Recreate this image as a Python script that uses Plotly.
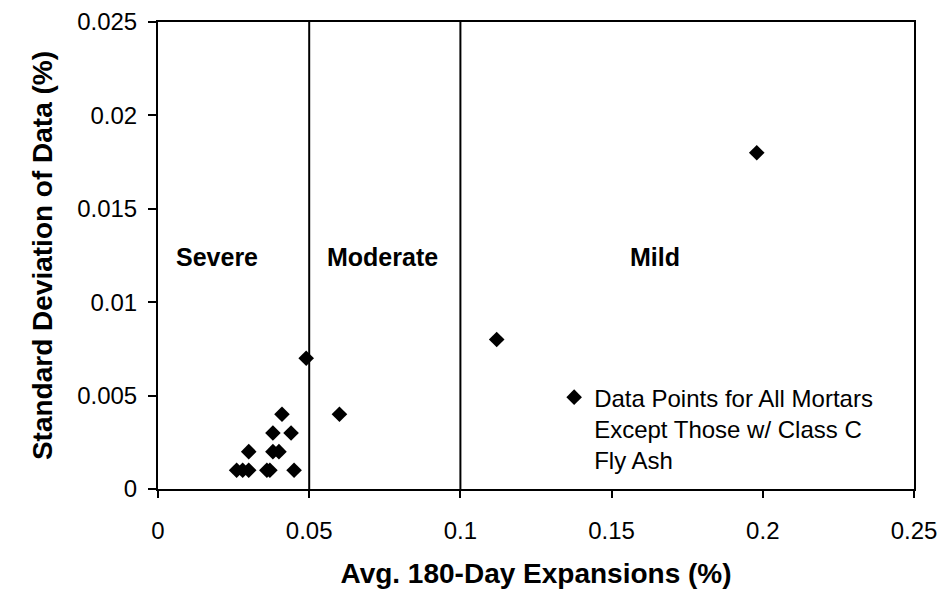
import plotly.graph_objects as go

# Average 180-day expansion (%) and standard deviation (%) for each mortar
avg_expansion = [0.026, 0.028, 0.030, 0.036, 0.037, 0.045,
                 0.030, 0.038, 0.040,
                 0.038, 0.044,
                 0.041, 0.060,
                 0.049,
                 0.112,
                 0.198]
std_dev = [0.001, 0.001, 0.001, 0.001, 0.001, 0.001,
           0.002, 0.002, 0.002,
           0.003, 0.003,
           0.004, 0.004,
           0.007,
           0.008,
           0.018]

# Severity class boundaries and labels
boundaries = [0.05, 0.1]
zone_labels = ["Severe", "Moderate", "Mild"]
zone_label_x = [0.0195, 0.0744, 0.1642]
zone_label_y = 0.0124

x_ticks = [0, 0.05, 0.1, 0.15, 0.2, 0.25]
x_tick_text = ["0", "0.05", "0.1", "0.15", "0.2", "0.25"]
y_ticks = [0, 0.005, 0.01, 0.015, 0.02, 0.025]
y_tick_text = ["0", "0.005", "0.01", "0.015", "0.02", "0.025"]

FONT = "Liberation Sans, Arial, sans-serif"

fig = go.Figure()
fig.add_trace(go.Scatter(
    x=avg_expansion, y=std_dev, mode="markers",
    name="Data Points for All Mortars<br>Except Those w/ Class C<br>Fly Ash",
    marker=dict(symbol="diamond", size=12, color="black"),
))

for b in boundaries:
    fig.add_shape(type="line", xref="x", yref="paper", x0=b, x1=b, y0=0, y1=1,
                  line=dict(color="black", width=2))

for lbl, lx in zip(zone_labels, zone_label_x):
    fig.add_annotation(x=lx, y=zone_label_y, text=f"<b>{lbl}</b>", showarrow=False,
                       font=dict(family=FONT, size=25, color="black"))

axis_common = dict(showline=True, linecolor="black", linewidth=2, mirror=True,
                   ticks="outside", tickwidth=2, tickcolor="black",
                   showgrid=False, zeroline=False, automargin=False,
                   tickfont=dict(family=FONT, size=24, color="black"))

fig.update_xaxes(range=[0, 0.25], tickvals=x_ticks, ticktext=x_tick_text,
                 ticklen=7, ticklabelstandoff=12,
                 title=dict(text="<b>Avg. 180-Day Expansions (%)</b>",
                            font=dict(family=FONT, size=28, color="black"), standoff=21),
                 **axis_common)
fig.update_yaxes(range=[0, 0.025], tickvals=y_ticks, ticktext=y_tick_text,
                 ticklen=8, ticklabelstandoff=6,
                 title=dict(text="<b>Standard Deviation of Data (%)</b>",
                            font=dict(family=FONT, size=28, color="black"), standoff=16),
                 **axis_common)

fig.update_layout(
    width=943, height=590,
    margin=dict(l=158, r=29, t=22, b=101),
    paper_bgcolor="white", plot_bgcolor="white",
    showlegend=True,
    legend=dict(x=0.524, y=0.244, xanchor="left", yanchor="top",
                font=dict(family=FONT, size=24, color="black"),
                bgcolor="rgba(0,0,0,0)", valign="top", itemwidth=30,
                tracegroupgap=0),
)

fig.write_html("out.html")
